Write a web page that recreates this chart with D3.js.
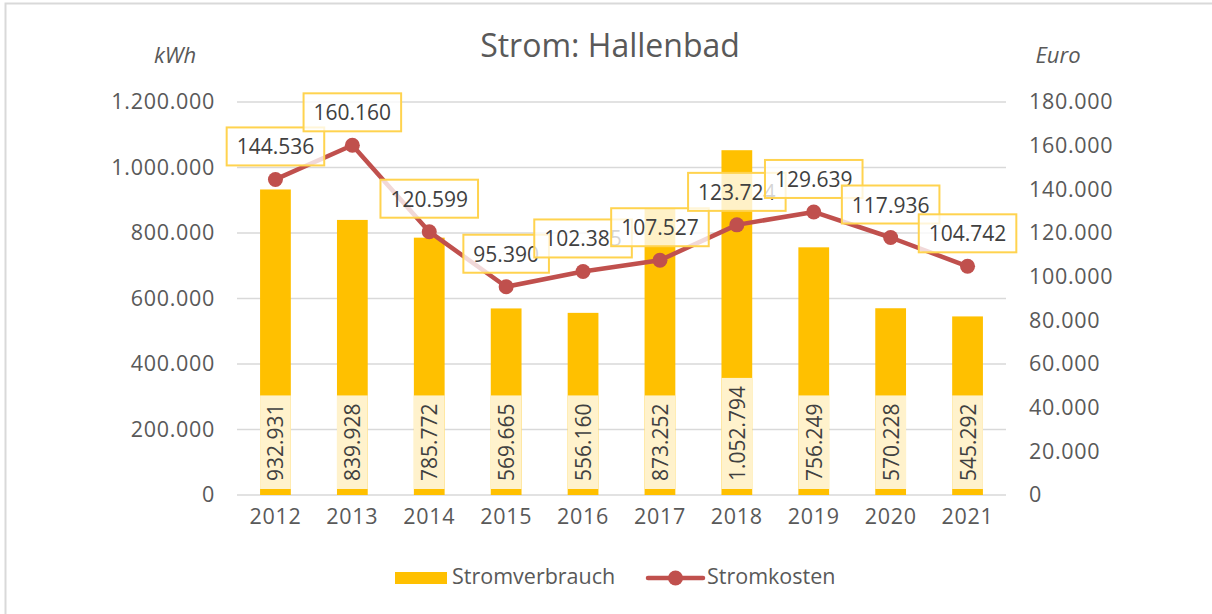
<!DOCTYPE html>
<html>
<head>
<meta charset="utf-8">
<script src="https://cdn.jsdelivr.net/npm/d3@7"></script>
<style>
  body { margin: 0; background: #fff; }
  svg text { font-family: "Open Sans", sans-serif; }
</style>
</head>
<body>
<script>
// data
const years = ["2012", "2013", "2014", "2015", "2016", "2017", "2018", "2019", "2020", "2021"];
const stromverbrauch = [932931, 839928, 785772, 569665, 556160, 873252, 1052794, 756249, 570228, 545292];
const stromkosten = [144536, 160160, 120599, 95390, 102385, 107527, 123724, 129639, 117936, 104742];
const kwhTicks = [0, 200000, 400000, 600000, 800000, 1000000, 1200000];
const euroTicks = [0, 20000, 40000, 60000, 80000, 100000, 120000, 140000, 160000, 180000];

var w = 1212;
var h = 614;
var plotL = 237, plotR = 1006, plotT = 102, plotB = 495;

const de = d3.formatLocale({ decimal: ",", thousands: ".", grouping: [3], currency: ["", "€"] });
const fmt = de.format(",d");

var svg = d3.select("body").append("svg").attr("width", w).attr("height", h);

// outer frame (only top/left visible in the photo)
svg.append("rect")
  .attr("x", 5.5).attr("y", 3.5)
  .attr("width", w + 10).attr("height", h + 10)
  .attr("fill", "none").attr("stroke", "#d9d9d9").attr("stroke-width", 2);

//scales
var xScale = d3.scaleBand().domain(years).range([plotL, plotR]).paddingInner(0.6).paddingOuter(0.3);
var yLeft = d3.scaleLinear().domain([0, 1200000]).range([plotB, plotT]);
var yRight = d3.scaleLinear().domain([0, 180000]).range([plotB, plotT]);

//grid lines
svg.append("g")
  .selectAll("line")
  .data(kwhTicks)
  .enter()
  .append("line")
  .attr("x1", plotL).attr("x2", plotR)
  .attr("y1", d => yLeft(d)).attr("y2", d => yLeft(d))
  .attr("stroke", "#d9d9d9").attr("stroke-width", 1.5);

//left axis
const yAxisL = d3.axisLeft(yLeft).tickValues(kwhTicks).tickFormat(fmt).tickSize(0).tickPadding(22);
const gl = svg.append("g").attr("transform", "translate(" + plotL + ",0)").call(yAxisL);
gl.select(".domain").remove();
gl.selectAll("text").attr("font-size", 21.5).attr("letter-spacing", 0.7).attr("fill", "#595959").attr("font-family", "Open Sans");

//right axis
const yAxisR = d3.axisRight(yRight).tickValues(euroTicks).tickFormat(fmt).tickSize(0).tickPadding(23);
const gr = svg.append("g").attr("transform", "translate(" + plotR + ",0)").call(yAxisR);
gr.select(".domain").remove();
gr.selectAll("text").attr("font-size", 21.5).attr("letter-spacing", 0.7).attr("fill", "#595959").attr("font-family", "Open Sans");

//x axis
const xAxis = d3.axisBottom(xScale).tickSize(0).tickPadding(14);
const gx = svg.append("g").attr("transform", "translate(0," + plotB + ")").call(xAxis);
gx.select(".domain").remove();
gx.selectAll("text").attr("font-size", 21.5).attr("letter-spacing", 0.7).attr("fill", "#595959").attr("font-family", "Open Sans");

//title + axis titles
svg.append("text").attr("x", 610).attr("y", 57).attr("text-anchor", "middle")
  .attr("font-size", 32).attr("fill", "#595959").text("Strom: Hallenbad");
svg.append("text").attr("x", 175).attr("y", 63).attr("text-anchor", "middle")
  .attr("font-size", 22).attr("font-style", "italic").attr("fill", "#595959").text("kWh");
svg.append("text").attr("x", 1058).attr("y", 63).attr("text-anchor", "middle")
  .attr("font-size", 22).attr("font-style", "italic").attr("fill", "#595959").text("Euro");

//bars
svg.append("g")
  .selectAll("rect")
  .data(stromverbrauch)
  .enter()
  .append("rect")
  .attr("x", (d, i) => xScale(years[i]))
  .attr("y", d => yLeft(d))
  .attr("width", xScale.bandwidth())
  .attr("height", d => plotB - yLeft(d))
  .attr("fill", "#ffc000");

//bar labels (rotated, in pale box near the base)
const barLab = svg.append("g")
  .selectAll("g")
  .data(stromverbrauch)
  .enter()
  .append("g");

barLab.each(function (d, i) {
  const g = d3.select(this);
  const cx = xScale(years[i]) + xScale.bandwidth() / 2;
  const t = g.append("text")
    .attr("font-size", 21)
    .attr("fill", "#404040")
    .attr("text-anchor", "middle")
    .attr("dominant-baseline", "central")
    .text(fmt(d));
  const len = t.node().getComputedTextLength();
  const bh = len + 16;
  const bBottom = plotB - 6;
  const cy = bBottom - bh / 2;
  g.insert("rect", "text")
    .attr("x", xScale(years[i]))
    .attr("y", bBottom - bh)
    .attr("width", xScale.bandwidth())
    .attr("height", bh)
    .attr("fill", "#fff2cc");
  t.attr("transform", "translate(" + cx + "," + cy + ") rotate(-90)");
});

//line
const line = d3.line()
  .x((d, i) => xScale(years[i]) + xScale.bandwidth() / 2)
  .y(d => yRight(d));

svg.append("path")
  .datum(stromkosten)
  .attr("d", line)
  .attr("fill", "none")
  .attr("stroke", "#c0504d")
  .attr("stroke-width", 4.5)
  .attr("stroke-linejoin", "round");

svg.append("g")
  .selectAll("circle")
  .data(stromkosten)
  .enter()
  .append("circle")
  .attr("cx", (d, i) => xScale(years[i]) + xScale.bandwidth() / 2)
  .attr("cy", d => yRight(d))
  .attr("r", 7.5)
  .attr("fill", "#c0504d");

//line labels
const lineLab = svg.append("g")
  .selectAll("g")
  .data(stromkosten)
  .enter()
  .append("g");

lineLab.each(function (d, i) {
  const g = d3.select(this);
  const cx = xScale(years[i]) + xScale.bandwidth() / 2;
  const cy = yRight(d) - 33;
  const t = g.append("text")
    .attr("x", cx).attr("y", cy)
    .attr("font-size", 21)
    .attr("fill", "#404040")
    .attr("text-anchor", "middle")
    .attr("dominant-baseline", "central")
    .text(fmt(d));
  const len = t.node().getComputedTextLength();
  g.insert("rect", "text")
    .attr("x", cx - len / 2 - 10)
    .attr("y", cy - 19)
    .attr("width", len + 20)
    .attr("height", 38)
    .attr("fill", "#fff")
    .attr("fill-opacity", 0.78)
    .attr("stroke", "#ffd34f")
    .attr("stroke-width", 2);
});

//legend
const lg = svg.append("g");
lg.append("rect").attr("x", 395).attr("y", 572).attr("width", 52).attr("height", 12).attr("fill", "#ffc000");
lg.append("text").attr("x", 452).attr("y", 584).attr("font-size", 21.5).attr("fill", "#595959").text("Stromverbrauch");
lg.append("line").attr("x1", 648).attr("x2", 703).attr("y1", 578).attr("y2", 578)
  .attr("stroke", "#c0504d").attr("stroke-width", 4.5).attr("stroke-linecap", "round");
lg.append("circle").attr("cx", 675.5).attr("cy", 578).attr("r", 7.5).attr("fill", "#c0504d");
lg.append("text").attr("x", 707).attr("y", 584).attr("font-size", 21.5).attr("fill", "#595959").text("Stromkosten");
</script>
</body>
</html>
